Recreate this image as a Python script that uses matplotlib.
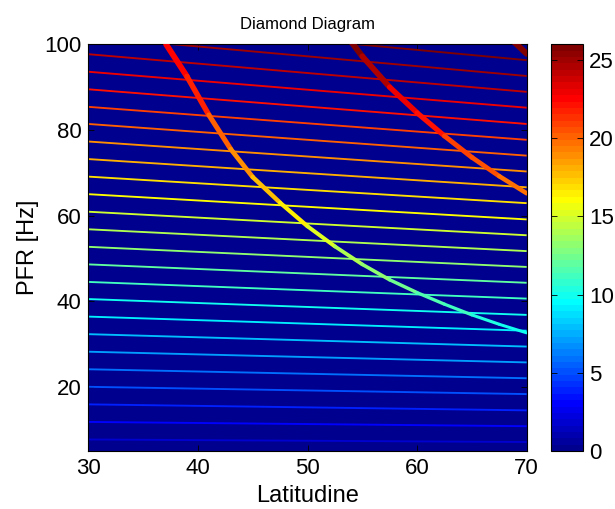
import numpy as np
import matplotlib
matplotlib.use("Agg")
import matplotlib.pyplot as plt
from matplotlib.colors import ListedColormap, Normalize
from matplotlib.collections import LineCollection

plt.rcParams['font.family'] = ['Liberation Sans', 'DejaVu Sans']

# ---- data ----
harmonic = list(range(1, 27))
# PFR of each harmonic line at latitude 30 and at latitude 70
pfr_lat30 = [3.6, 7.7, 11.8, 15.9, 20.0, 24.1, 28.2, 32.3, 36.4, 40.5, 44.5, 48.6, 52.7,
             56.8, 60.9, 65.0, 69.1, 73.2, 77.3, 81.4, 85.4, 89.5, 93.6, 97.7, 101.8, 105.9]
pfr_lat70 = [3.4, 7.1, 10.8, 14.5, 18.3, 22.0, 25.7, 29.4, 33.1, 36.8, 40.6, 44.3, 48.0,
             51.7, 55.4, 59.1, 62.9, 66.6, 70.3, 74.0, 77.7, 81.4, 85.2, 88.9, 92.6, 96.3]
lat_ends = [30, 70]

# fundamental thick curve (multiples 1, 2, 3 are drawn)
curve_lat = [37.1, 39.0, 41.0, 43.0, 45.0, 47.5, 50.0, 52.5, 55.0, 57.5, 60.0, 62.5, 65.0, 67.5, 70.0]
curve_pfr = [100.0, 92.5, 83.5, 75.5, 69.0, 63.0, 57.5, 52.8, 48.6, 45.0, 42.0, 39.3, 36.8, 34.6, 32.6]
curve_multiples = [1, 2, 3]
# colour value along each curve (same latitude points)
curve_value_1 = [23.0, 22.2, 21.0, 19.5, 18.3, 17.0, 15.8, 14.7, 13.7, 12.9, 12.1, 11.4, 10.8, 10.3, 9.9]
curve_value_2 = [26.0, 26.0, 26.0, 26.0, 26.0, 26.0, 26.0, 26.0, 25.3, 23.8, 22.5, 21.5, 20.7, 20.0, 19.4]
curve_value_3 = [26.0] * 15

cmin, cmax = 0, 26
xticks = [30, 40, 50, 60, 70]
yticks = [20, 40, 60, 80, 100]
cticks = [0, 5, 10, 15, 20, 25]


def matlab_jet(n=64):
    m = int(np.ceil(n / 4))
    u = np.concatenate([np.arange(1, m + 1) / m, np.ones(m - 1), np.arange(m, 0, -1) / m])
    g = int(np.ceil(m / 2)) - (1 if n % 4 == 1 else 0) + np.arange(1, len(u) + 1)
    r = g + m
    b = g - m
    J = np.zeros((n, 3))
    J[r[r <= n] - 1, 0] = u[r <= n]
    J[g[g <= n] - 1, 1] = u[g <= n]
    J[b[b >= 1] - 1, 2] = u[b >= 1]
    return ListedColormap(J)


cmap = matlab_jet(64)
norm = Normalize(cmin, cmax)

fig = plt.figure(figsize=(6.15, 5.09), dpi=100)
ax = fig.add_axes([0.1436, 0.1139, 0.7128, 0.799])
ax.set_facecolor(cmap(0))

for n, f0, f1 in zip(harmonic, pfr_lat30, pfr_lat70):
    ax.plot(lat_ends, [f0, f1], color=cmap(norm(n)), lw=1.35, solid_capstyle='butt', zorder=2)

lat = np.asarray(curve_lat)
values = {1: curve_value_1, 2: curve_value_2, 3: curve_value_3}
for k in curve_multiples:
    f = k * np.asarray(curve_pfr)
    v = np.asarray(values[k])
    pts = np.column_stack([lat, f])
    segs = np.stack([pts[:-1], pts[1:]], axis=1)
    fm = 0.5 * (f[:-1] + f[1:])
    vm = 0.5 * (v[:-1] + v[1:])
    widths = 0.72 * (1.5 + 0.045 * np.clip(fm, 0, 100))
    lc = LineCollection(segs, cmap=cmap, norm=norm, linewidths=widths, capstyle='round', zorder=3)
    lc.set_array(vm)
    ax.add_collection(lc)

ax.set_xlim(30, 70)
ax.set_ylim(5, 100)
ax.set_xticks(xticks)
ax.set_yticks(yticks)
ax.tick_params(direction='in', top=True, right=True, length=4, width=0.6, labelsize=16, pad=5)
for s in ax.spines.values():
    s.set_linewidth(0.8)
ax.set_xlabel('Latitudine', fontsize=17, labelpad=4)
ax.set_ylabel('PFR [Hz]', fontsize=17, labelpad=4)
ax.set_title('Diamond Diagram', fontsize=12, pad=11)

cax = fig.add_axes([0.8954, 0.1139, 0.053, 0.799])
sm = matplotlib.cm.ScalarMappable(cmap=cmap, norm=norm)
cb = fig.colorbar(sm, cax=cax, ticks=cticks)
cb.outline.set_linewidth(0.8)
cax.tick_params(direction='in', left=True, right=True, length=4, width=0.6, labelsize=16, pad=4)

fig.savefig('out.png', dpi=100)
